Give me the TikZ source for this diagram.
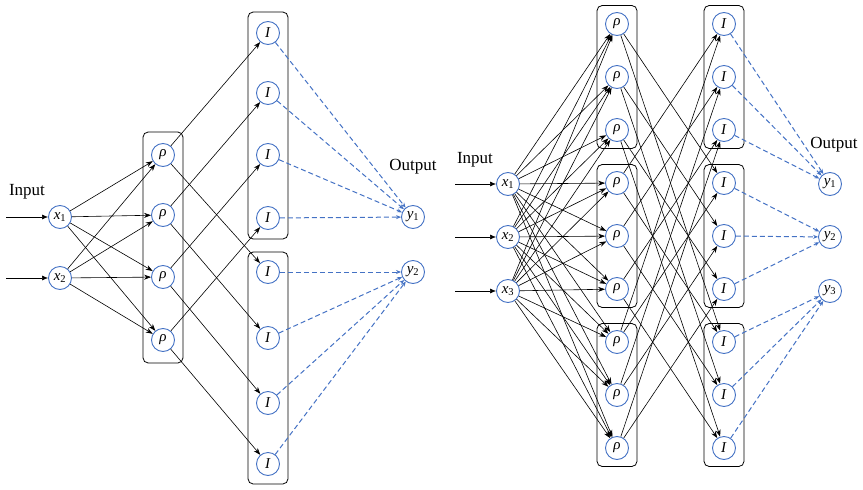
\documentclass[tikz,border=0pt]{standalone}
\usepackage{fontspec}
\setmainfont{Liberation Serif}
\usetikzlibrary{arrows.meta, fit}
\definecolor{unitblue}{RGB}{68,114,196}

\newcommand{\unitvar}[2]{\textit{#1}\textsubscript{#2}}

\tikzset{
  unit/.style={circle, draw=unitblue, line width=0.9pt, minimum size=23pt,
               inner sep=0pt, font=\fontsize{15}{17}\selectfont},
  grp/.style={draw, rounded corners=5pt, line width=0.8pt, inner xsep=8pt, inner ysep=#1},
  grp/.default=8pt,
  link/.style={-{Stealth[length=7pt,width=5pt]}, line width=0.6pt},
  feed/.style={-{Latex[length=6pt,width=5pt]}, line width=0.6pt},
  sumline/.style={unitblue, dash pattern=on 5pt off 3pt, line width=1pt,
                  -{Stealth[length=5pt,width=4pt]}},
  lbl/.style={font=\fontsize{17}{19}\selectfont}
}

\begin{document}
\begin{tikzpicture}[x=1pt,y=-1pt]
  \useasboundingbox (0,0) rectangle (863,490);

  % left network
  \node[lbl] (linput) at (27,192) {Input};
  \node[lbl] (loutput) at (413,167) {Output};
  \foreach \i/\yy in {1/217,2/278} {
    \node[unit] (lx\i) at (60,\yy) {\unitvar{x}{\i}};
    \coordinate (lin\i) at (6,\yy);
    \draw[feed] (lin\i) -- (lx\i);
  }
  \foreach \i/\yy in {1/155,2/215,3/277,4/340}
    \node[unit] (lr\i) at (163,\yy) {\textit{ρ}};
  \foreach \i/\yy in {1/33,2/93,3/155,4/218}
    \node[unit] (la\i) at (268,\yy) {\textit{I}};
  \foreach \i/\yy in {1/272,2/338,3/403,4/464}
    \node[unit] (lb\i) at (268,\yy) {\textit{I}};
  \node[unit] (ly1) at (413,217) {\unitvar{y}{1}};
  \node[unit] (ly2) at (413,272) {\unitvar{y}{2}};

  \node[grp=11pt, fit=(lr1)(lr4)] (lrbox) {};
  \node[grp=9pt, fit=(la1)(la4)] (labox) {};
  \node[grp=8pt, fit=(lb1)(lb4)] (lbbox) {};

  \foreach \a in {1,2}
    \foreach \b in {1,...,4}
      \draw[link] (lx\a) -- (lr\b);
  \foreach \b in {1,...,4} {
    \draw[link] (lr\b) -- (la\b);
    \draw[link] (lr\b) -- (lb\b);
    \draw[sumline] (la\b) -- (ly1);
    \draw[sumline] (lb\b) -- (ly2);
  }

  % right network
  \node[lbl] (rinput) at (475,160) {Input};
  \node[lbl] (routput) at (834,145) {Output};
  \foreach \i/\yy in {1/184,2/237,3/291} {
    \node[unit] (rx\i) at (508,\yy) {\unitvar{x}{\i}};
    \coordinate (rin\i) at (455,\yy);
    \draw[feed] (rin\i) -- (rx\i);
    \node[unit] (ry\i) at (830,\yy) {\unitvar{y}{\i}};
  }
  \foreach \a in {1,2,3}
    \foreach \b in {1,2,3} {
      \pgfmathsetmacro\yy{24+53*(3*(\a-1)+\b-1)}
      \node[unit] (rp\a\b) at (617,\yy) {\textit{ρ}};
      \node[unit] (ri\a\b) at (724,\yy) {\textit{I}};
    }
  \foreach \a in {1,2,3} {
    \node[grp=6.5pt, fit=(rp\a1)(rp\a3)] (rpbox\a) {};
    \node[grp=6.5pt, fit=(ri\a1)(ri\a3)] (ribox\a) {};
  }

  \foreach \k in {1,2,3}
    \foreach \a in {1,2,3}
      \foreach \b in {1,2,3}
        \draw[link] (rx\k) -- (rp\a\b);
  \foreach \a in {1,2,3}
    \foreach \b in {1,2,3}
      \foreach \c in {1,2,3} {
        \ifnum\a=\c\else
          \draw[link] (rp\a\b) -- (ri\c\b);
        \fi
      }
  \foreach \c in {1,2,3}
    \foreach \b in {1,2,3}
      \draw[sumline] (ri\c\b) -- (ry\c);
\end{tikzpicture}
\end{document}
